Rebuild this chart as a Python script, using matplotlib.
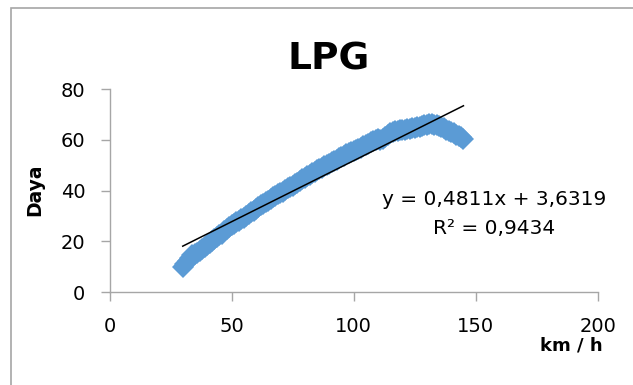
import matplotlib
matplotlib.use('Agg')
import matplotlib.pyplot as plt
from matplotlib.patches import Rectangle
import numpy as np

# %% Data (speed km/h vs power)
speed = list(range(30, 146))
daya = [10, 11, 12.3, 13.5, 14.5, 15, 15.3, 16.2, 17, 17.8,          # 30-39
        18.5, 19.3, 20, 20.8, 21.5, 22.3, 23, 24, 25, 25.7,          # 40-49
        26.3, 26.9, 27.5, 28.1, 28.7, 29.3, 30, 30.7, 31.4, 32.1,    # 50-59
        32.8, 33.5, 34.2, 34.8, 35.4, 36, 36.6, 37.3, 37.9, 38.5,    # 60-69
        39, 39.6, 40.2, 40.8, 41.3, 41.9, 42.5, 43.1, 43.7, 44.4,    # 70-79
        45, 45.6, 46.2, 46.8, 47.3, 47.9, 48.4, 49, 49.5, 50,        # 80-89
        50.5, 51.1, 51.6, 52.2, 52.7, 53.2, 53.7, 54.2, 54.6, 55.1,  # 90-99
        55.5, 56, 56.4, 56.9, 57.4, 58, 58.5, 59.1, 59.7, 60,        # 100-109
        60.2, 60, 60.3, 61, 62, 62.6, 63, 63.3, 63.5, 63.7,          # 110-119
        63.8, 64, 64.1, 64.3, 64.5, 64.7, 65, 65.2, 65.5, 65.8,      # 120-129
        66, 66.1, 66.2, 66, 65.8, 65.4, 65, 64.5, 64, 63.5,          # 130-139
        63, 62.5, 62, 61.5, 61, 60.4]                                # 140-145

slope = 0.4811
intercept = 3.6319
r2 = 0.9434

xticks = [0, 50, 100, 150, 200]
yticks = [0, 20, 40, 60, 80]

# %% Plot
W, H = 633, 385
fig = plt.figure(figsize=(W / 100, H / 100), dpi=100)
ax = fig.add_axes([109.5 / W, 1 - 292 / H, (597.7 - 109.5) / W, (292 - 89) / H])

ax.plot(speed, daya, linestyle='none', marker='D', markersize=11,
        markeredgewidth=0, color='#5B9BD5', zorder=2)

xs = np.array([min(speed), max(speed)])
ax.plot(xs, slope * xs + intercept, color='black', lw=1.1, zorder=3)

ax.set_xlim(0, 200)
ax.set_ylim(0, 80)
ax.set_xticks(xticks)
ax.set_yticks(yticks)
for s in ['top', 'right']:
    ax.spines[s].set_visible(False)
for s in ['left', 'bottom']:
    ax.spines[s].set_color('#A6A6A6')
    ax.spines[s].set_linewidth(1.0)
ax.tick_params(axis='both', direction='out', length=6.5, width=1.0,
               color='#A6A6A6', labelsize=14, labelcolor='black')
ax.tick_params(axis='x', pad=11.5)
ax.tick_params(axis='y', pad=11)

fig.text(329 / W, 1 - 60 / H, 'LPG', fontsize=27, fontweight='bold',
         ha='center', va='center')
fig.text(35 / W, 1 - 190 / H, 'Daya', fontsize=13.5, fontweight='bold',
         rotation=90, ha='center', va='center')
fig.text(571 / W, 1 - 345 / H, 'km / h', fontsize=13, fontweight='bold',
         ha='center', va='center')

eq1 = 'y = {:.4f}x + {:.4f}'.format(slope, intercept).replace('.', ',')
eq2 = 'R² = {:.4f}'.format(r2).replace('.', ',')
fig.text(494.5 / W, 1 - 205 / H, eq1, fontsize=14.5, ha='center', va='baseline')
fig.text(494.5 / W, 1 - 234 / H, eq2, fontsize=14.5, ha='center', va='baseline')

# chart area border (only top/left edges fall inside the image)
fig.patches.append(Rectangle((11 / W, -0.5), 2, 1 - 8 / H + 0.5,
                             transform=fig.transFigure, fill=False,
                             edgecolor='#A6A6A6', lw=1.2))

fig.savefig('out.png', dpi=100)
